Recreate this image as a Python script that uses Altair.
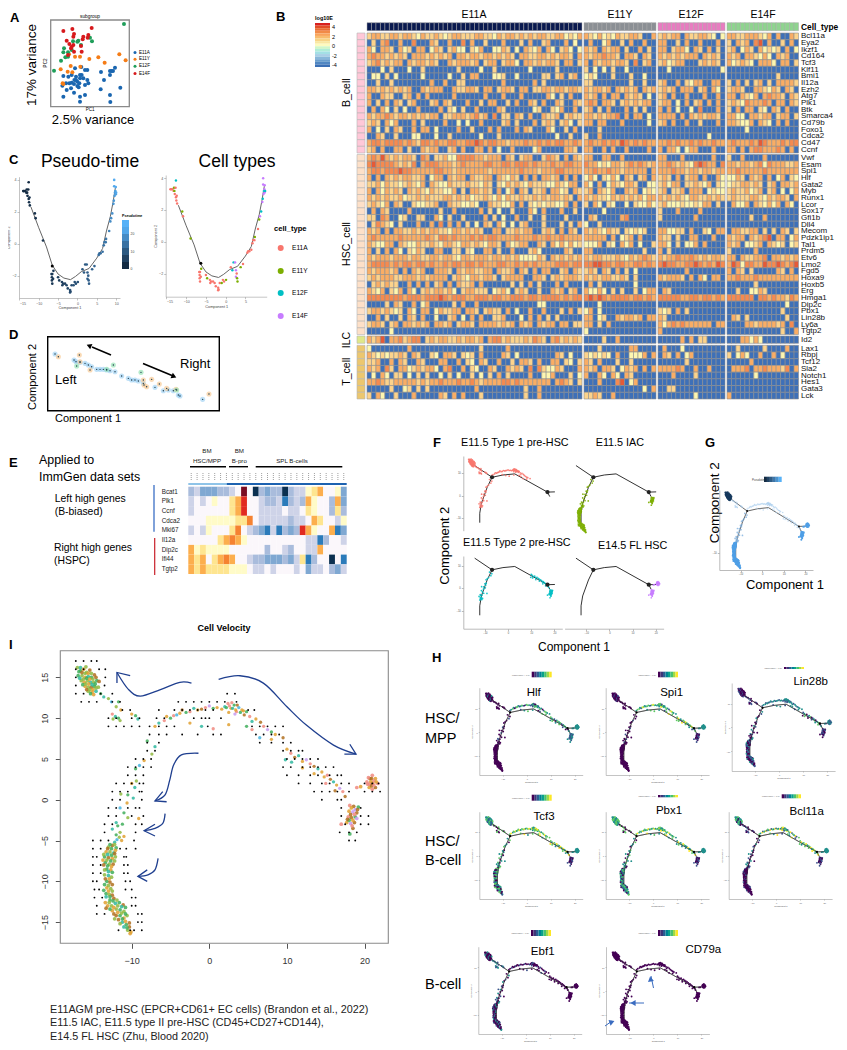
import altair as alt
import pandas as pd

W, H = 831, 1034
FONT = "Liberation Sans"
L = []
ONE = pd.DataFrame({"a": [0]})

# ---------- Panel B values (levels) ----------
GROUP_LEN = [48, 16, 15, 16]
B_CELL = [
("Bcl11a","233223323321322321233222332213233232323322331213","3213121322332003","232330322332101","3322333213030032"),
("Eya2","020340030040003200300403002000300020300230003010","0300130020300300","330020300300030","2032304503002030"),
("Ikzf1","310332031203301320231102130011320103213031023101","3230323302003020","330233103203020","2301320312120301"),
("Cd164","343323232033323232303323323323232033223323233203","3233433203320320","323232333032320","3230332131032300"),
("Tcf3","234232330323323200323332302330233103323233203302","3032332332040230","231233000232320","3123210333103302"),
("Klf11","000102000100200000002000010020000000100000200000","2010102001000000","001000000000001","0000000000000000"),
("Bmi1","011020100000100000100203300011200100000220230230","1210002000200100","000000000000000","0000000000020000"),
("Il12a","002002000000003003002200000000300000030200000000","2200000000200200","230030213300330","2030202302033332"),
("Ezh2","332323232300323330032233203302332033022332332332","3233230323230323","232303330230310","2332003321320320"),
("Atg7","300322002303030000030000003000300030000031020300","3230303303232010","230300300030030","3303213034332032"),
("Plk1","302030320230002303200030020330020300320300320032","3430332023232330","233010302303030","2321433343033032"),
("Btk","030310201003000030210200300003200000012002130030","2302030003020200","303010010400030","2030330210320300"),
("Smarca4","323343233232323302233323423040220320300322302322","3323233403033010","333303032323320","3311033233023302"),
("Cd79b","232031300030200003001010030000230200030232023102","3303300030000010","230300300200030","3321130321030300"),
("Foxo1","301020320030330100003002000303000303200031002030","0002000000000000","000000000000000","0000100000000000"),
("Cdca2","003200200011000100200000010002000000000000100200","2003000000000000","000000000001000","0000000000000000"),
("Cd47","344344443432443433443344543443323334334343443343","3433434354343433","334343343433433","3433343543334344"),
("Ccnf","230300330200323300230300330301003000013000003320","3300303003000030","303310133000300","3303034433343030"),
]
HSC_CELL = [
("Vwf","343532323320430223114444332333032023300243203032","3300330030000000","330003000000300","2003000030000000"),
("Esam","454444323240344433323433334433443444343334334433","4331213323434323","334323214543304","3323323414333223"),
("Spi1","344344454433333443323333333233333343332333443333","3343343323333303","333433233233233","3343333343333333"),
("Hlf","303032323322301330323303223303213203030332303030","1310213103202303","232030233030031","1132032303013021"),
("Gata2","223132212321303211322232213202132321322211321330","3103013213320011","231330223213021","1223323202303323"),
("Myb","303132320323213221130203323203013032022303312032","2303213003230121","230223033301211","2322312302301013"),
("Runx1","323232231223232223323231223213132232232323323203","3232213232323133","323232133223232","2322233213233203"),
("Lcor","232130320021122300322112100322113030212122113030","2031021001021131","231112112133020","0311303213130310"),
("Sox17","030320000300000020030000030201002000310300030020","0000100000000000","200030000300000","0000000000000000"),
("Gfi1b","220430012002200310200200003020100300200200002000","0320000034000000","200000003000000","0000020030000000"),
("Dll4","024321020003003040303020103203101023000200020203","1002000000000000","000000000000000","0000000000000000"),
("Mecom","323030332232323322133232320033022323300232030320","3232132202121200","331122030021033","0332233020203202"),
("Pdzk1ip1","343333343333343244343334343443333433343343343333","3333303012303000","322020033000300","3233032345033013"),
("Tal1","321133032113223213321332321332031233003203131312","1113021031301002","331020113030000","3230112303212012"),
("Prdm5","302030310213200330022021003302003000231000003200","3300000000000200","302000000000000","2000003000000000"),
("Etv6","323332333233223323321332333233232311113203232323","3233222321323432","323343343232332","3303223340332323"),
("Lmo2","344443434434434334344344343334433434343333444344","4455443443344343","454433445434354","3541443354454345"),
("Fgd5","323332303032300333203233223303223032030330023032","2320320302010000","000000300000000","3032020000032030"),
("Hoxa9","232333223332323333023213323320233330033202323332","3232332232020000","323332030310330","3343334333333333"),
("Hoxb5","023232200303030230303223030000002020302000303000","0302000000010000","000000000000000","0000002000000000"),
("Erg","321302130310232332310233222012310232002003230230","3113102020020133","032000000000000","0020011320000000"),
("Hmga1","444444443444344454344433444344334443443444434344","4545434444344343","444443344344343","4444440443433243"),
("Dip2c","000020320030130000020300300000000000001100000000","0001000000000000","000000000000000","0000000000000100"),
("Pbx1","233232120310330132233033202322030100300300020302","1301000000000000","212030200000000","0000000000002000"),
("Lin28b","003020020320300100230103030022300010303020200000","3301200323323033","320000000000000","0320200000000200"),
("Ly6a","233202303323230332302332033332323032303233033022","3302030000000000","313434333333033","0000332333323040"),
("Tgtp2","000001000000000000000000000000000000000000000000","1000000000000000","300000000000000","0000000000002003"),
]
ILC_CELL = [
("Id2","323503342344023233223233230344232223243203423232","0000200300000000","000003030220000","0003313100000000"),
]
T_CELL = [
("Lax1","100000000300000000000000020000030000000000000000","0002000000330000","030001000000000","0020000020000300"),
("Rbpj","321212232032002103320212030000320100000000320100","2121210300111303","032030130000000","2013100300301000"),
("Tcf12","223003032003200033003021032003002033203003302102","3203000200200000","000000200000000","0000030000000000"),
("Sla2","323042033123233103400302100320032320404211320003","3230332013230303","333343003003000","0333403343332403"),
("Notch1","010310220102020010201002010203020000300113000201","3003103103200000","000300002000000","0000001000000000"),
("Hes1","334322333332323343334334323333443433333330343202","0003000450130000","000000000000000","0000000000000000"),
("Gata3","000002001202020000000000300000000002003000000000","0000000000000103","002200000000000","0000000000000000"),
("Lck","203100200030000032030300020000000002003000000000","2232003000000000","000000001000000","3000000000000000"),
]
HEAT_LEVELS = ["0", "1", "2", "3", "4", "5"]
HEAT_COLORS = ["#3e70b8", "#fdf6b0", "#fcd38c", "#f9ad65", "#f58a50", "#e55a37"]
LOG10E = [4, 3.5, 3, 2.5, 2, 1.5, 1, 0.5, 0, -0.5, -1, -1.5, -2, -2.5, -3, -3.5, -4]

# ---------- Panel A ----------
A_POINTS = {
"E11A": [(190,290),(200,270),(222,278),(240,290),(255,285),(240,305),(330,285),(331,306),(361,263),(302,268),(312,240),(303,216),(330,225),(335,213),(345,203),(339,213),(330,213),(262,210),(255,210),(244,201),(225,205),(215,225),(205,230),(190,228),(198,250),(187,257),(208,250),(215,248),(223,240),(228,240),(232,245),(238,250),(240,235),(245,225),(250,235),(262,240),(265,250),(255,255),(232,258),(236,262),(222,252),(240,225),(228,230),(213,265)],
"E11Y": [(377,181),(358,163),(314,188),(295,172),(268,177),(240,170),(225,170),(207,163),(182,208),(203,215),(212,198),(217,217),(241,200),(188,250),(190,252)],
"E12F": [(372,72),(276,124),(270,113),(235,122),(219,124),(232,125),(192,145),(190,157),(204,157),(204,170),(196,172),(183,182),(162,212),(215,150),(243,135)],
"E14F": [(275,84),(217,87),(190,93),(222,102),(200,122),(208,132),(213,145),(220,135),(222,155),(204,165),(245,155),(248,118),(265,105),(263,113),(250,110),(220,110),(243,138),(215,140)],
}
A_COLORS = {"E11A": "#1a66b0", "E11Y": "#f57c16", "E12F": "#1f9e5a", "E14F": "#d7191c"}

# ---------- Panel C ----------
C_X = [-14,-13.8,-13.5,-13.2,-13.1,-12.7,-12.6,-13,-12.9,-12.6,-12.4,-12.5,-12.3,-11,-10.8,-8.9,-6.5,-6.6,-6.6,-6.5,-6.3,-6.7,-6.2,-5,-4.7,-4,-3.9,-3.7,-3.2,-2.8,-2.5,-1.9,-1.8,-1.9,-1.5,-1,-0.7,-0.4,0.1,1.3,1.7,2,2.4,2.6,2.8,2.6,2.9,3,3.8,4.4,5.5,5.7,6,6.5,6.8,7,7.3,7.4,8.2,8.5,8.7,9,9.3,9.4,9.6,9.7,9.8,9.9,10,9.5,9.9,9.5]
C_Y = [3.3,3.3,3.3,3.2,3.4,3.4,3.85,3.2,3,2.8,2.9,2.6,2.4,1.9,1.6,0.2,-1.9,-2.1,-2.3,-2.5,-2.2,-1.9,-1.7,-2.1,-2.3,-2.4,-2.6,-2.5,-2.5,-2.6,-2.8,-2.9,-3,-3.05,-2.6,-2.6,-2.4,-2.5,-2.4,-1.6,-1.8,-1.3,-1.3,-1.8,-2,-2.2,-2.3,-2.5,-1.6,-1.4,-0.7,-0.6,-0.6,-0.5,-0.1,0.1,0.1,0.3,0.8,1.4,1.6,1.9,2.5,2.7,3,3.2,3.3,3.1,3.2,3.6,3.55,4]
C_TIME = [0,0,0,0,0,0,0,0,0.5,1,1,1,1,1.5,1.5,2,3,3,3,3,3,3,3,4,4,5,5,5,5,6,6,7,7,7,7,8,8,8,8,10,10,10,11,11,11,11,11,11,12,12,14,14,14,15,15,16,16,16,18,20,20,21,22,22,23,23,24,24,25,25,26,26]
C_TYPE = "AAAAYAFYAAAAAYA"+"YAAAAAAY"+"AYAAAAAAAAAAYAAYAFFGGAGYYYAAAAAAAAYAY"+"GFGFGFGGFGGGGGGG"
C_TRAJ_X = [-12,-10,-8,-6.5,-5,-3.5,-1.8,-0.5,1,3,5,6.5,7.5,8.5,9.2,9.8]
C_TRAJ_Y = [2.3,1,-0.2,-1.35,-1.9,-2.15,-2.25,-2.05,-1.75,-1.55,-0.9,-0.3,0.8,1.7,2.6,3.5]
TYPE_NAMES = ["E11A", "E11Y", "E12F", "E14F"]
TYPE_COLORS = ["#F8766D", "#7CAE00", "#00BFC4", "#C77CFF"]
TIME_SCALE = [0, 5, 10, 15, 20, 25, 27]

# ---------- Panel D ----------
D_BLUE = [(165,102),(222,120),(228,125),(240,127),(255,130),(265,135),(275,140),(290,148),(300,148),(310,148),(320,150),(330,152),(345,155),(365,168),(385,175),(395,180),(405,180),(415,183),(430,190),(465,202),(490,212),(505,210),(520,212),(535,225),(540,228),(608,238)]
D_ORANGE = [(175,110),(238,105),(270,150),(240,125),(432,195),(440,200),(455,178),(478,192),(500,205),(528,208),(627,222),(430,180)]
D_GREEN = [(340,135),(423,157),(230,138),(320,148),(530,210)]

# ---------- Panel E ----------
E_ROWS = ["Bcat1","Plk1","Ccnf","Cdca2","Mki67","Il12a","Dip2c","Ifi44","Tgtp2"]
E_CELLS = ["deccc" "ddeflfadcddadeeghiffgc",
           "efefgffhikffeddebdedigffdic",
           "effffffhikffeeeefeefhgffdhd",
           "fffggggghhjfeeeeedeefihffegd"[:27],
           "efegfffhjfedcbebdcdkigffibc"[:27],
           "fffffhijigffffffffffeebdffe",
           "ighgggg" "ffffffdffedffeeifffff",
           "ihifhijiffeddcccdcehbdffafb",
           "ihihhhhgggfeefefffefceefdce"]
E_KEYS = list("abcdefghijkl")
E_COLORS = ["#0b3050","#2b7bba","#7fa8d2","#a9bcdc","#ced3e8","#fbf7fb","#fffbc8","#fee590","#fcae4d","#f58231","#e12a20","#7a0c22"]

# ---------- Shared trajectory cells (panels F, G, H, I) ----------
TL = [(-17,16.2),(-16.6,15.8),(-16.2,16),(-15.8,15.6),(-15.4,15.9),(-16.9,15.2),(-16.4,15.2),(-16,15),(-15.6,15.1),(-15.2,15),(-14.8,15.3),(-16.5,14.6),(-16.1,14.4),(-15.7,14.6),(-15.3,14.4),(-14.9,14.4),(-14.5,14.6),(-16,13.9),(-15.6,13.8),(-15.2,13.8),(-14.8,13.9),(-15.6,13.3),(-15.1,13.2),(-14.6,13.3),
      (-16.8,15.7),(-16.4,15.6),(-16,15.5),(-15.6,15.5),(-15.2,15.5),(-16.7,14.9),(-16.2,14.8),(-15.8,14.9),(-15.4,14.8),(-15,14.8),(-14.6,15),(-16.3,14.1),(-15.9,14.2),(-15.5,14.2),(-15.1,14.1),(-14.7,14.2),(-15.8,13.5),(-15.4,13.5),(-15,13.5),(-14.6,13.7),(-16.6,16.2),(-15.9,16.3),(-15.3,13),(-14.9,12.9),(-14.3,13.8),(-14.2,14.5)]
TAIL = [(-14,13),(-13.6,12.6),(-13,12.4),(-12.6,12),(-11.7,12),(-12,11.4),(-11.4,11),(-12.5,10.5),(-12.1,10.2),(-11.7,10),(-12.4,9.9),(-11.5,9.7),(-10,10.5),(-9.5,10.3),(-9.2,9.9)]
ARCH = [(-7,9),(-6.5,9.4),(-5.8,9.7),(-5.5,10.2),(-5,10),(-4.6,10.3),(-4.2,10.4),(-3.8,10.6),(-3.5,11),(-3,10.7),(-2.5,10.8),(-2,11.2),(-1.5,11),(-1,11.1),(-.5,11.3),(0,11.5),(.5,11.2),(1,11.3),(1.6,11.1),(2,11.4),(2.4,11.8),(2.8,11.2),(3.2,11.6),(3.5,10.8),(3.8,11.3),(4.2,11),(4.5,10.4),(4.8,10.8),(5.2,10.2),(5.5,9.6),(6,9.9),(6.6,9.5),(7,9),(7.5,8.6),(8,8.3),(8.5,8),(-2.5,9.4),(-1,9),(.5,8.7),(2.5,9.2),(4.8,9),(5.5,8.6),(6.5,7.6),(8,7.4),(9.5,7.6),
        (2.2,11.3),(2.6,11.5),(3,11.2),(3.4,11),(3.6,11.6),(2.9,11.9),(3.3,10.5),(4,10.7),(4.4,10.9),(2.5,10.7)]
RIGHT = [(10,6.2),(10.5,5.7),(11,5.2),(11.5,5.4),(12,4.7),(12.5,4.9),(13,4.4),(13.5,4.1),(14,3.8),(14.5,3.4),(14.8,2.8),(15.2,3),(15.6,2.5),(16,2.2),(16.4,1.8),(16.8,1.4),(17.2,1),(17.5,.4),(10.6,4.6),(12,3.9),(13.5,3.2),(15,2),(16.2,1.1),(9.8,4.9)]
TERM1 = [(20.3,2.2),(20.7,2.6),(21,3),(21.4,2.6),(21.7,2),(21.4,1.5),(21,1.3),(20.6,1.5),(20.4,1.9),(21,2),(19,1.5),(19.5,1.6),
         (20.5,2.7),(20.9,2.6),(21.2,2.3),(20.8,2.2),(20.6,1.9),(20.9,1.7),(21.2,1.8),(21.5,2.2)]
TERM2 = [(18.1,-0.7),(18.6,-0.8),(19.2,-.9),(18,-1.4),(18.5,-1.5),(19,-1.6),(17.9,-2.1),(18.3,-2.2),(18.8,-2.1),(17.7,-2.8),(18.2,-2.9),(18.7,-2.8),(17,-3),(18.5,-3.5),(18.1,-4.2),
         (18.3,-1),(18.8,-1.2),(18.2,-1.8),(18.7,-1.8),(19.1,-1.2),(18,-2.5),(18.5,-2.5),(19,-2.3),(17.8,-2.4),(18.4,-3.2)]
ARM_S = [(-8,7.2),(-7,6.5),(-7.4,5.6),(-8.4,4.8),(-9,4.2),(-9.5,3.8),(-9.4,2.3),(-10,2),(-9.6,1.5),(-10.5,.6),(-9.8,.2),(-11.4,.7),(-10.6,-.4),(-11.5,-1),(-11,-1.6),(-10.5,-2.2),(-9.1,-2.3),(-12,-2.8),(-11.2,-3),(-12.5,-3.6),(-11.5,-4),(-11,-4.5),(-11.9,-4.9),
         (-12,-4.3),(-11.6,-4.6),(-11.3,-5),(-12.2,-5.2),(-11.8,-3.2)]
ARM_D = [(-13,-5.8),(-12.5,-5.6),(-12,-5.9),(-13.3,-6.4),(-12.8,-6.4),(-12.3,-6.5),(-13.5,-7),(-13,-7.1),(-12.5,-7.2),(-12.1,-7),(-13.4,-7.7),(-12.9,-7.9),(-12.4,-7.9),(-13.2,-8.5),(-12.7,-8.6),(-13.5,-9.2),(-13,-9.3),(-13.2,-10),(-12.8,-10.1),(-13.2,-10.8),(-12.7,-10.9),(-13.3,-11.5),(-12.9,-11.6),(-12.5,-11.7),(-12.8,-12.3),(-13.1,-13),(-12.6,-13),(-12.1,-12.7),(-11.6,-12.6),(-11.1,-12.9),(-12.5,-13.6),(-12,-13.4),(-11.5,-13.5),(-11,-13.7),(-12,-14.2),(-11.5,-14.2),(-11,-14.5),(-10.6,-14.2),(-11.2,-15),(-10.7,-15.3),(-10.3,-15.6),(-10.1,-16.2),(-10.5,-16),
         (-12.8,-5.5),(-12.2,-5.5),(-13.1,-6),(-12.6,-6),(-12.1,-6.2),(-13.6,-6.7),(-13.1,-6.7),(-12.6,-6.8),(-12.2,-6.6),(-13.7,-7.4),(-13.2,-7.4),(-12.7,-7.5),(-12.2,-7.5),(-13.6,-8),(-13.1,-8.1),(-12.6,-8.2),(-13.5,-8.6),(-13,-8.8),(-12.5,-8.9),(-13.4,-9.7),(-12.9,-9.7),(-12.6,-9.5),(-13.5,-10.4),(-13,-10.5),(-12.5,-10.4),(-13.6,-11.1),(-13,-11.2),(-12.5,-11.2),(-13.3,-11.9),(-12.8,-11.9),(-12.3,-12.1),(-13.4,-12.6),(-12.9,-12.6),(-12.4,-12.4),(-11.9,-12.3),(-13.3,-13.3),(-12.8,-13.4),(-12.3,-13.2),(-11.8,-13),(-11.3,-13.1),(-10.8,-13.2),(-12.3,-14),(-11.8,-13.8),(-11.3,-13.9),(-10.8,-14),(-12.2,-14.6),(-11.7,-14.7),(-11.2,-14.6),(-10.8,-14.9),(-11.5,-15.2),(-11,-15.6),(-10.6,-15.7),(-10.3,-15.1),(-10.2,-16.4)]
GROUPS = {"TL":TL,"TAIL":TAIL,"ARCH":ARCH,"RIGHT":RIGHT,"TERM1":TERM1,"TERM2":TERM2,"ARM_S":ARM_S,"ARM_D":ARM_D}
TRAJ = {
 "a": [(-14.4,13.4),(-6.9,8.2)],
 "b": [(-6.9,8.2),(-2.2,9.2),(2.9,9.7),(17,1.6)],
 "c": [(17,1.6),(20.2,1.7)],
 "d": [(17,1.6),(18,-0.4)],
 "e": [(-6.9,8.2),(-9,3.7),(-11.5,-3.4),(-12.2,-7.8),(-12.2,-12)],
}
NODES = [(-6.9,8.2),(17,1.6)]

VIRIDIS = ["#440154","#3b528b","#21908c","#5dc863","#fde725"]
GENE_LEVELS = {
 "Hlf":   dict(TL="0020",TAIL="00",ARCH="123201332",RIGHT="323102",TERM1="2",TERM2="21",ARM_S="00100",ARM_D="0"),
 "Spi1":  dict(TL="0010",TAIL="00",ARCH="233213432",RIGHT="343213",TERM1="2",TERM2="10",ARM_S="00010",ARM_D="0"),
 "Lin28b":dict(TL="001",TAIL="01",ARCH="122",RIGHT="1230",TERM1="21",TERM2="01",ARM_S="0210",ARM_D="01120"),
 "Tcf3":  dict(TL="2321",TAIL="30",ARCH="3423",RIGHT="324",TERM1="2",TERM2="10",ARM_S="2302",ARM_D="2330012"),
 "Pbx1":  dict(TL="2332",TAIL="03",ARCH="34232",RIGHT="2432",TERM1="2",TERM2="10",ARM_S="2032",ARM_D="23201"),
 "Bcl11a":dict(TL="2320",TAIL="01",ARCH="3241",RIGHT="3423",TERM1="2",TERM2="10",ARM_S="0102",ARM_D="00010"),
 "Ebf1":  dict(TL="0200",TAIL="12",ARCH="0010",RIGHT="00",TERM1="0",TERM2="0",ARM_S="0201",ARM_D="02010"),
 "CD79a": dict(TL="0",TAIL="0",ARCH="0",RIGHT="0",TERM1="0",TERM2="0",ARM_S="0",ARM_D="0"),
}

# ---------- Panel I ----------
I_PALETTE = dict(o="#e0a030",g="#3fae5a",t="#2fb8a0",s="#f08a80",p="#c79af0",b="#45b4e0",y="#90b840",d="#b07020")
I_COLS = dict(TL="ygoydgyotgdyoyt",TAIL="gtybgyostgyyo",ARCH="otsogsbodgstodspgo",RIGHT="osdtopsdto",TERM1="sdso",TERM2="sdgopd",ARM_S="gtyobgyot",ARM_D="ydgoytgdoyg")
VELO = {
17:[-17.2,-16.2,-15.2,-14.5],16:[-17.2,-16.2,-14.2,-13.4],15:[-17.2,-13.4],14:[-17.2,-13.5],
13:[-17.2,-16.2,-14,-12.5,2.3,3.3],12:[-16.5,-15.5,-14.5,-12.5,-11.5,-4,-3,-2,-1,0,1,2,3.5],
11:[-11.2,-10.2,-6.5,-4.5,-3.5,-2.5,-1.5,-.5,.5,5,5.8],10:[-13,-12,-10,-9,-6.8,-5.8,-2,-1,-.5,0,1.5],
9:[-13,-12,-11,-10,-9,-7.7,-6.5,-5.5,-4.5,-.2,5.5,6.5,7.5,8.5,9.5],8:[-7.7,-6.5,-5.5,-3.5,-1.5,.5,1.5,6,7,8,9],
7:[-8,-6.5,6.5,8,9.5,10.5],6:[-8,-7,9.5,10.5,11.5,12],5:[-9.5,-8.5,-7.5,10,11,12,13,14],
4:[-10.5,-9.5,-8.5,-7.5,9.5,10.5,12,13,14,15,16],3:[-10.5,-9.5,-8.5,10,11.5,13,14,15.5,16.5,17],
2:[-12,-11,-10,-9,-8.5,11.5,13,14.5,15.5,17,18,20,21,21.8],1:[-12.5,-11.5,-10.5,-9,-8.7,13.5,14.5,15.5,16.5,18,20,21,22],
0:[-12.5,-11.5,-8.7,14.5,16.5,17],-1:[-13,-12,-10.5,-9.5,-9,17,19.5],-2:[-13,-12,-10,-8.5,17,19.5,20.5],
-3:[-13.5,-12.5,-9.5,-8.7,17.5,19.5,20.5],-4:[-13.5,-9.5,16.8,18,19],-5:[-15,-14,-13,-9.7,18,18.8],
-6:[-15,-14,-11.5,-10.7,-9.5],-7:[-15,-14.5,-11,-10.7],-8:[-15,-14,-11,-10.5],-9:[-15,-14,-11,-10.5],
-10:[-15,-14.5,-10.8,-10.2],-11:[-14.8,-14.2,-10.8,-10],-12:[-14.8,-13.8,-10,-9.5],-13:[-14.5,-10,-9.5],
-14:[-14.5,-13.5,-9.2,-8.7],-15:[-9.2,-8.7],-16:[-11.7,-10.2,-9.7,-8.7],
}
I_ARROWS = {
 "c1":[(-2.3,14.3),(-3.8,14.4),(-6.3,13.5),(-8.9,12.7),(-10.4,13.5),(-11.9,15.6)],
 "h1":[(-11.9,14.3),(-11.9,15.6),(-10.2,15.2)],
 "c2":[(1.2,14.75),(3.95,15.2),(6.96,14.3),(10,11.4),(12.5,9.15),(16,6.7),(18.9,5.6)],
 "h2":[(17.4,5.6),(18.9,5.6),(18.1,6.8)],
 "c3":[(-1.4,5.7),(-3.6,5.5),(-4.6,4.25),(-5.1,2.4),(-5.7,.6),(-7,-.15)],
 "h3":[(-6,1),(-7,-.15),(-5.5,-.25)],
 "c4":[(-5.7,-1.7),(-6,-2.9),(-7,-3.5),(-8.4,-3.8)],
 "h4":[(-7,-3),(-8.4,-3.8),(-7,-4.45)],
 "c5":[(-6.6,-7.2),(-7,-8.6),(-7.9,-9.2),(-9.2,-9.4)],
 "h5":[(-8,-8.6),(-9.2,-9.4),(-8,-10)],
}

# ---------- helpers (all positions below are page pixels) ----------
def sc(dom, rng):
    return alt.Scale(domain=list(dom), range=[rng[0]-8, rng[1]-8], nice=False, zero=False)

def xax(y, ticks, size, title=None, tsize=None, color="#888888", tick=2, w=0.5):
    kw = dict(title=title) if title else dict(title=None)
    return alt.Axis(orient="bottom", offset=(y-8)-H, values=ticks, grid=False, labelFontSize=size,
                    labelFont=FONT, labelColor="#555555", tickSize=tick, tickColor=color, domainColor=color,
                    domainWidth=w, tickWidth=w, labelPadding=1, titleFontSize=tsize or size, titleFont=FONT,
                    titleFontWeight="normal", titleColor="#444444", titlePadding=1, format="d", **kw)

def yax(x, ticks, size, title=None, tsize=None, color="#888888", tick=2, w=0.5, angle=None):
    kw = dict(title=title) if title else dict(title=None)
    if angle is not None:
        kw.update(labelAngle=angle, labelAlign="center", labelBaseline="bottom")
    return alt.Axis(orient="left", offset=-(x-8), values=ticks, grid=False, labelFontSize=size,
                    labelFont=FONT, labelColor="#555555", tickSize=tick, tickColor=color, domainColor=color,
                    domainWidth=w, tickWidth=w, labelPadding=1, titleFontSize=tsize or size, titleFont=FONT,
                    titleFontWeight="normal", titleColor="#444444", titlePadding=1, format="d", **kw)

def T(s, x, y, size=9, align="left", bold=False, angle=None, color="#000000"):
    kw = dict(angle=angle) if angle is not None else {}
    L.append(alt.Chart(ONE).mark_text(text=s, font=FONT, fontSize=size, align=align, baseline="middle", color=color,
                                      fontWeight="bold" if bold else "normal", **kw)
             .encode(x=alt.value(x-8), y=alt.value(y-8)))

def seg(x0, y0, x1, y1, color="#000000", w=1.0, dash=None):
    kw = dict(strokeDash=dash) if dash else {}
    L.append(alt.Chart(ONE).mark_rule(color=color, strokeWidth=w, **kw)
             .encode(x=alt.value(x0-8), x2=alt.value(x1-8), y=alt.value(y0-8), y2=alt.value(y1-8)))

def frame(x0, y0, x1, y1, color, w):
    L.append(alt.Chart(ONE).mark_rect(fillOpacity=0, stroke=color, strokeWidth=w)
             .encode(x=alt.value(x0-8), x2=alt.value(x1-8), y=alt.value(y0-8), y2=alt.value(y1-8)))

def tri(x, y, angle, size, color="#000000"):
    L.append(alt.Chart(ONE).mark_point(shape="triangle-up", filled=True, opacity=1, color=color, size=size, angle=angle % 360)
             .encode(x=alt.value(x-8), y=alt.value(y-8)))

def pts(p, xs, ys, size, color=None, opacity=1.0, xaxis=None, yaxis=None, cfield=None, cscale=None, mark="circle"):
    df = pd.DataFrame(p, columns=["x", "y"] + (["c"] if cfield else []))
    enc = dict(x=alt.X("x:Q", scale=xs, axis=xaxis), y=alt.Y("y:Q", scale=ys, axis=yaxis))
    if cfield:
        enc["color"] = alt.Color(cfield, scale=cscale, legend=None)
        m = alt.Chart(df).mark_circle(size=size, opacity=opacity)
    else:
        m = alt.Chart(df).mark_circle(size=size, opacity=opacity, color=color)
    L.append(m.encode(**enc))

def lines(segs, xs, ys, color, w, xaxis=None, yaxis=None, interp="linear"):
    rows = [dict(seg=k, i=i, x=a, y=b) for k, v in segs.items() for i, (a, b) in enumerate(v)]
    L.append(alt.Chart(pd.DataFrame(rows)).mark_line(color=color, strokeWidth=w, interpolate=interp)
             .encode(x=alt.X("x:Q", scale=xs, axis=xaxis), y=alt.Y("y:Q", scale=ys, axis=yaxis),
                     detail="seg:N", order="i:Q"))

def bar(vals, xr, yr, dom, rng, vertical=True):
    df = pd.DataFrame({"v": vals, "k": [str(i) for i in range(len(vals))]})
    keys = list(df.k)
    band = lambda r: alt.Scale(domain=keys, range=[r[0]-8, r[1]-8], paddingInner=0, paddingOuter=0)
    col = alt.Color("v:Q", scale=alt.Scale(domain=dom, range=rng), legend=None)
    if vertical:
        L.append(alt.Chart(df).mark_rect().encode(
            y=alt.Y("k:N", sort=None, scale=band(yr), axis=None),
            x=alt.value(xr[0]-8), x2=alt.value(xr[1]-8), color=col))
    else:
        L.append(alt.Chart(df).mark_rect().encode(
            x=alt.X("k:N", sort=None, scale=band(xr), axis=None),
            y=alt.value(yr[0]-8), y2=alt.value(yr[1]-8), color=col))

# ---------- A ----------
ax_s, ay_s = sc([152, 388], (50.7, 129.3)), sc([320, 60], (106.7, 20))
frame(50.7, 20, 129.3, 106.7, "#8a8a8a", 1.3)
for name, p in A_POINTS.items():
    pts(p, ax_s, ay_s, 16, color=A_COLORS[name])
T("subgroup", 90, 16.5, 4.8, "center")
T("PC1", 90, 109.5, 4.5, "center")
T("PC2", 46, 63, 4.5, "center", angle=270)
T("17% variance", 32, 65, 13.5, "center", angle=270)
T("2.5% variance", 93, 120, 13, "center")
for i, name in enumerate(TYPE_NAMES):
    yy = [52.5, 59.3, 66.3, 73.5][i]
    L.append(alt.Chart(pd.DataFrame({"n": [name]})).mark_circle(size=9, opacity=1, color=A_COLORS[name])
             .encode(x=alt.value(135-8), y=alt.value(yy-8)))
    T(name, 139, yy, 4.6)

# ---------- Panel letters ----------
for s, x, y in [("A",10,18),("B",276,17),("C",9,160),("D",9,335),("E",9,463),("F",433,443),("G",705,443),("H",432,658),("I",9,645)]:
    T(s, x, y, 13, bold=True)

# ---------- B ----------
col_groups = [(0, 48, (367, 582)), (48, 64, (584, 656)), (64, 79, (658, 725)), (79, 95, (727, 798.5))]
row_groups = [(B_CELL, (33, 153), "#ffc8d8"), (HSC_CELL, (154.5, 334.5), "#fde0c8"),
              (ILC_CELL, (336, 343.3), "#dfe88a"), (T_CELL, (345.3, 399), "#ecc76f")]
grid = "#8f8f8f"
for rows, yr, side in row_groups:
    names = [r[0] for r in rows]
    yb = alt.Scale(domain=names, range=[yr[0]-8, yr[1]-8], paddingInner=0, paddingOuter=0)
    for gi, (c0, c1, xr) in enumerate(col_groups):
        rec = []
        for r in rows:
            s = r[gi+1].ljust(GROUP_LEN[gi], "0")[:GROUP_LEN[gi]]
            rec += [dict(row=r[0], col=c0+j, v=ch) for j, ch in enumerate(s)]
        L.append(alt.Chart(pd.DataFrame(rec)).mark_rect(stroke=grid, strokeWidth=0.6).encode(
            x=alt.X("col:O", scale=alt.Scale(domain=list(range(c0, c1)), range=[xr[0]-8, xr[1]-8], paddingInner=0, paddingOuter=0), axis=None),
            y=alt.Y("row:N", sort=None, scale=yb, axis=None),
            color=alt.Color("v:N", scale=alt.Scale(domain=HEAT_LEVELS, range=HEAT_COLORS), legend=None)))
    df = pd.DataFrame({"row": names})
    L.append(alt.Chart(df).mark_rect(stroke="#b5b5b5", strokeWidth=0.6, color=side).encode(
        y=alt.Y("row:N", sort=None, scale=yb, axis=None), x=alt.value(357-8), x2=alt.value(365-8)))
    L.append(alt.Chart(df).mark_text(font=FONT, fontSize=8, align="left", color="#111111").encode(
        y=alt.Y("row:N", sort=None, scale=yb, axis=None), x=alt.value(801-8), text="row:N"))
HDR = ["#0a1a50", "#8b8f94", "#e87cc0", "#8fd48f"]
for (c0, c1, xr), colr, nm, cx in zip(col_groups, HDR, ["E11A","E11Y","E12F","E14F"], [474, 620, 691, 763]):
    df = pd.DataFrame({"col": list(range(c0, c1))})
    L.append(alt.Chart(df).mark_rect(color=colr, stroke="#a8a8a8", strokeWidth=0.5).encode(
        x=alt.X("col:O", scale=alt.Scale(domain=list(range(c0, c1)), range=[xr[0]-8, xr[1]-8], paddingInner=0, paddingOuter=0), axis=None),
        y=alt.value(22.7-8), y2=alt.value(30.7-8)))
    T(nm, cx, 14.5, 10.5, "center")
T("Cell_type", 801, 27, 8.4, bold=True)
T("B_cell", 346.5, 92.7, 10.5, "center", angle=270)
T("HSC_cell", 346.5, 244, 10.5, "center", angle=270)
T("ILC", 346.5, 340, 10.5, "center", angle=270)
T("T_cell", 346.5, 371.7, 10.5, "center", angle=270)
T("log10E", 315, 18, 5.5, bold=True)
bar(LOG10E, (315, 330), (23, 67), [-4, -2, 0, 2, 4], ["#3a6fb5", "#a8cfe6", "#fdfbc0", "#f9a45c", "#d8201f"])
for s, yy in [("4", 27), ("2", 37), ("0", 46), ("-2", 56), ("-4", 65)]:
    T(s, 332, yy, 5.5)

# ---------- C ----------
c_tr = {"t": list(zip(C_TRAJ_X, C_TRAJ_Y))}
cx1, cy1 = sc([-15.1, 11], (19, 120)), sc([-3.4, 4.2], (298, 176.7))
cx2, cy2 = sc([-15.2, 10.4], (165.7, 266.7)), sc([-3.46, 4.2], (296.7, 175))
lines(c_tr, cx1, cy1, "#666666", 1, xax(298, [-15,-10,-5,0,5,10], 3.6, "Component 1", 3.8), yax(19, [-2,0,2,4], 3.6, "Component 2", 3.8))
pts(list(zip(C_X, C_Y, C_TIME)), cx1, cy1, 7, cfield="c:Q",
    cscale=alt.Scale(domain=[0, 27], range=["#132B43", "#56B1F7"]))
pts([(-6.5, -1.4)], cx1, cy1, 9, color="#000000")
lines(c_tr, cx2, cy2, "#666666", 1, xax(296.7, [-15,-10,-5,0,5], 3.6, "Component 1", 3.8), yax(165.7, [-2,0,2,4], 3.6, "Component 2", 3.8))
tmap = dict(A="E11A", Y="E11Y", F="E12F", G="E14F")
ctypes = (C_TYPE + "G"*len(C_X))[:len(C_X)]
pts([(a, b, tmap[t]) for a, b, t in zip(C_X, C_Y, ctypes)], cx2, cy2, 6, cfield="c:N",
    cscale=alt.Scale(domain=TYPE_NAMES, range=TYPE_COLORS))
pts([(-6.3, -1.35)], cx2, cy2, 9, color="#000000")
T("Pseudo-time", 90, 162, 17.5, "center")
T("Cell types", 237, 162, 17.5, "center")
T("Pseudotime", 122, 216, 3.6, bold=True)
bar(TIME_SCALE[::-1], (122, 129), (220, 269), [0, 27], ["#132B43", "#56B1F7"])
for s, yy in [("20", 234), ("10", 252), ("0", 268.5)]:
    T(s, 130.5, yy, 3.4, color="#444444")
T("cell_type", 274, 229, 7.6, bold=True)
for name, colr, yy in zip(TYPE_NAMES, TYPE_COLORS, [248, 271, 293, 316]):
    L.append(alt.Chart(pd.DataFrame({"n": [name]})).mark_circle(size=36, opacity=1, color=colr)
             .encode(x=alt.value(280.7-8), y=alt.value(yy-8)))
    T(name, 292, yy, 6.6)

# ---------- D ----------
dx, dy = sc([143, 658], (47.7, 219.3)), sc([272, 50], (410.7, 336.7))
pts(D_BLUE, dx, dy, 26, color="#8cc8f0", opacity=0.55)
pts(D_ORANGE, dx, dy, 26, color="#f8c890", opacity=0.65)
pts(D_GREEN, dx, dy, 26, color="#90e0b0", opacity=0.65)
pts(D_BLUE + D_ORANGE + D_GREEN, dx, dy, 2, color="#1c3a4a")
frame(47.7, 336.7, 219.3, 410.7, "#000000", 1.4)
T("Left", 55, 380, 13)
T("Right", 180, 364, 13)
T("Component 2", 33, 377, 11, "center", angle=270)
T("Component 1", 88, 419, 11, "center")
seg(111, 355, 92, 347, w=1.6)
tri(89, 345.7, -67, 34)
seg(143, 363.5, 172, 375.5, w=1.6)
tri(174, 376.5, 113, 34)

# ---------- E ----------
ecols = [f"c{i}" for i in range(27)]
ex = alt.Scale(domain=ecols, range=[188.3-8, 346.7-8], paddingInner=0, paddingOuter=0)
ey = alt.Scale(domain=E_ROWS, range=[486.7-8, 574-8], paddingInner=0, paddingOuter=0)
rec = [dict(row=r, col=ecols[j], v=ch) for r, s in zip(E_ROWS, E_CELLS) for j, ch in enumerate(s.ljust(27, "f")[:27])]
L.append(alt.Chart(pd.DataFrame(rec)).mark_rect().encode(
    x=alt.X("col:N", sort=None, scale=ex, axis=None), y=alt.Y("row:N", sort=None, scale=ey, axis=None),
    color=alt.Color("v:N", scale=alt.Scale(domain=E_KEYS, range=E_COLORS), legend=None)))
L.append(alt.Chart(pd.DataFrame({"row": E_ROWS})).mark_text(font=FONT, fontSize=6.3, align="left", color="#222222").encode(
    y=alt.Y("row:N", sort=None, scale=ey, axis=None), x=alt.value(161.7-8), text="row:N"))
L.append(alt.Chart(pd.DataFrame({"col": ecols})).mark_rule(color="#777777", strokeWidth=0.7, strokeDash=[1, 1]).encode(
    x=alt.X("col:N", sort=None, scale=ex, axis=None), y=alt.value(473-8), y2=alt.value(481-8)))
seg(188.3, 484, 226.7, 484, "#8fc4e8", 2)
seg(226.7, 484, 346.7, 484, "#1d62b0", 2)
seg(190, 466.7, 226, 466.7, "#000000", 1.4)
seg(229, 466.7, 248, 466.7, "#000000", 1.4)
seg(255.7, 466.7, 342.3, 466.7, "#000000", 1.4)
T("BM", 207, 450.7, 6.2, "center", color="#222222")
T("HSC/MPP", 207, 460.5, 6.2, "center", color="#222222")
T("BM", 239.3, 450.7, 6.2, "center", color="#222222")
T("B-pro", 239.3, 460.5, 6.2, "center", color="#222222")
T("SPL B-cells", 292, 460.5, 6.2, "center", color="#222222")
T("Applied to", 39, 460, 12.4)
T("ImmGen data sets", 39, 476.7, 12.4)
T("Left high genes", 54.7, 498.7, 10.4)
T("(B-biased)", 54.7, 512, 10.4)
T("Right high genes", 54, 548, 10.4)
T("(HSPC)", 54, 561, 10.4)
seg(154, 485, 154, 531.7, "#2a63c0", 1.2)
seg(154.7, 538, 154.7, 575, "#c8202a", 1.2)

# ---------- F ----------
def fpanel(x_dx, y0, bottom, top, groups, colr, show_y, show_x):
    xs = sc([-19.3, 23.4], (463.3+x_dx, 562.3+x_dx))
    ys = sc([-(bottom-y0)/2.25, (y0-top)/2.25], (bottom, top))
    xa = xax(bottom, [-10,0,10,20], 2.6, color="#aaaaaa", w=0.8) if show_x else None
    ya = yax(463.3+x_dx, [-10,0,10], 2.6, color="#aaaaaa", w=0.8) if show_y else None
    lines(TRAJ, xs, ys, "#333333", 1.0, xa, ya)
    p = [q for g in groups for q in GROUPS[g]]
    pts(p, xs, ys, 3, color=colr, opacity=0.9)
    pts(NODES, xs, ys, 18, color="#222222")
fpanel(0, 495.7, 530.7, 456, ["TL","TAIL","ARCH","ARM_S"], "#F8766D", True, False)
fpanel(101.3, 495.7, 530.7, 456, ["ARM_D","ARM_S","TERM2"], "#7CAE00", False, False)
fpanel(0, 588.3, 628.7, 556, ["ARM_S","RIGHT","TERM2"], "#00BFC4", True, True)
fpanel(101.3, 588.3, 628.7, 556, ["TERM1","TERM2"], "#C77CFF", False, True)
T("E11.5 Type 1 pre-HSC", 461, 443.3, 10.8)
T("E11.5 IAC", 595.7, 443.3, 10.8)
T("E11.5 Type 2 pre-HSC", 463, 543.3, 10.8)
T("E14.5 FL HSC", 598, 546, 10.8)
T("Component 2", 445, 545.7, 13, "center", angle=270)
T("Component 1", 574, 646.7, 12, "center")

# ---------- G ----------
gx, gy = sc([-19.8, 23.5], (719.3, 813)), sc([-17.2, 17.3], (570, 490))
lines(TRAJ, gx, gy, "#555555", 0.9, xax(570, [-10,0,10,20], 2.6, color="#aaaaaa", w=0.8), yax(719.3, [-10,0,10], 2.6, color="#aaaaaa", w=0.8))
pts(TAIL + ARCH + RIGHT, gx, gy, 2.5, color="#a9cdee", opacity=0.7)
pts(TL, gx, gy, 4, color="#173a5e")
pts(ARM_S, gx, gy, 3, color="#7fb0de", opacity=0.8)
pts(ARM_D + TERM1 + TERM2, gx, gy, 4, color="#4f9fe6")
pts(NODES, gx, gy, 4, color="#111111")
T("Component 2", 715, 502.7, 13.5, "center", angle=270)
T("Component 1", 785, 585, 13, "center")
T("Pseudotime", 752, 479.5, 2.8, color="#444444")
bar([0, 5, 10, 15, 20, 25], (764, 781.7), (476.7, 482), [0, 25], ["#132B43", "#56B1F7"], vertical=False)

# ---------- H ----------
def hpanel(gene, ax_x, y0, bottom, top, cb):
    xs = sc([-19.75, 23.3], (ax_x, ax_x+103.4))
    ys = sc([-(bottom-y0)/2.38, (y0-top)/2.38], (bottom, top))
    lines(TRAJ, xs, ys, "#777777", 1.0, xax(bottom, [-10,0,10,20], 2.2, "Component 1", 2.2, tick=1), yax(ax_x, [-10,0,10], 2.2, "Component 2", 2.2, tick=1))
    rec = []
    for g, p in GROUPS.items():
        s = GENE_LEVELS[gene][g]
        rec += [(a, b, int(s[i % len(s)])) for i, (a, b) in enumerate(p)]
    pts(rec, xs, ys, 3.5, cfield="c:Q", cscale=alt.Scale(domain=[0, 1, 2, 3, 4], range=VIRIDIS))
    lines({k: v for k, v in TRAJ.items()}, xs, ys, "#333333", 0.5)
    pts(NODES, xs, ys, 5, color="#000000")
    bar([0, 1, 2, 3, 4, 5, 6, 7], cb[0], cb[1], [0, 1.75, 3.5, 5.25, 7], VIRIDIS, vertical=False)
    T("log10(value + 0.1)", cb[0][0]-2, (cb[1][0]+cb[1][1])/2, 2.2, "right", color="#555555")

hpanel("Hlf", 479.3, 732, 775, 687.7, ((531.7, 551.7), (671.7, 677.3)))
hpanel("Spi1", 605.7, 732, 775, 687.7, ((658, 678), (671.7, 677.3)))
hpanel("Lin28b", 731.7, 727.3, 771, 683, ((784, 804), (667, 669)))
hpanel("Tcf3", 479.3, 855.7, 899, 811.7, ((531.7, 551.7), (794.7, 800.7)))
hpanel("Pbx1", 605.7, 855.7, 899, 811.7, ((658, 678), (795, 797.3)))
hpanel("Bcl11a", 728.7, 855.7, 899, 811.7, ((781.7, 801), (794.3, 798.3)))
hpanel("Ebf1", 478.3, 991, 1034, 946.7, ((531, 551), (930, 936)))
hpanel("CD79a", 606, 991, 1034, 946.7, ((658, 678), (930, 936)))
for s, x, y in [("Hlf",533.7,693),("Spi1",671.7,693),("Lin28b",810.7,682.3),("Tcf3",544,817),("Pbx1",669,810.7),("Bcl11a",806.7,811.7),("Ebf1",542.7,951.7),("CD79a",703.3,950)]:
    T(s, x, y, 11.5, "center")
T("HSC/", 425, 719, 14.5)
T("MPP", 425, 739, 14.5)
T("HSC/", 425, 841.7, 14.5)
T("B-cell", 425, 860.7, 14.5)
T("B-cell", 425, 985, 14.5)
ARW = "#3a6cc0"
seg(653.5, 988, 651, 976, ARW, 1)
tri(650.5, 979, -10, 36, ARW)
seg(644, 1003, 629, 1003, ARW, 1)
tri(633, 1003, -90, 36, ARW)
seg(605, 1026, 612, 1021, ARW, 1)
tri(612, 1022, 70, 36, ARW)

# ---------- I ----------
ix, iy = sc([-19.2, 23.06], (60.3, 388.3)), sc([-17.6, 18.27], (943.3, 650.7))
frame(60.3, 650.7, 388.3, 943.3, "#8a8a8a", 1.1)
L.append(alt.Chart(pd.DataFrame({"x": [-10, 0, 10, 20], "y": [-17.6]*4})).mark_circle(opacity=0).encode(
    x=alt.X("x:Q", scale=ix, axis=alt.Axis(orient="bottom", offset=(943.3-8)-H, values=[-10,0,10,20], title=None, grid=False,
            labelFont=FONT, labelFontSize=9, labelColor="#333333", tickColor="#555555", domain=False, tickSize=5, labelPadding=8, labelExpr="replace(datum.label, '-', '−')")),
    y=alt.Y("y:Q", scale=iy, axis=alt.Axis(orient="left", offset=-(60.3-8), values=[-15,-10,-5,0,5,10,15], title=None, grid=False,
            labelFont=FONT, labelFontSize=9, labelColor="#333333", tickColor="#555555", domain=False, tickSize=5, labelPadding=6,
            labelAngle=270, labelAlign="center", labelBaseline="bottom", labelExpr="replace(datum.label, '-', '−')"))))
for g, p in GROUPS.items():
    s = I_COLS[g]
    size = 14 if g in ("TL", "ARM_D", "TERM1", "TERM2") else 11
    rec = [(a, b, s[i % len(s)]) for i, (a, b) in enumerate(p)]
    pts(rec, ix, iy, size, cfield="c:N", opacity=0.85,
        cscale=alt.Scale(domain=list(I_PALETTE), range=list(I_PALETTE.values())))
velo = [(x, y) for y, xs in VELO.items() for x in xs]
pts(velo, ix, iy, 3.5, color="#000000")
lines({k: v for k, v in I_ARROWS.items() if k[0] == "c"}, ix, iy, "#1f3f8f", 1.3, interp="cardinal")
lines({k: v for k, v in I_ARROWS.items() if k[0] == "h"}, ix, iy, "#1f3f8f", 1.3)
T("Cell Velocity", 224, 627.7, 9, "center", bold=True)
T("E11AGM pre-HSC (EPCR+CD61+ EC cells) (Brandon et al., 2022)", 50, 1010, 10.8, color="#222222")
T("E11.5 IAC, E11.5 type II pre-HSC (CD45+CD27+CD144),", 50, 1023, 10.8, color="#222222")
T("E14.5 FL HSC (Zhu, Blood 2020)", 50, 1036.7, 10.8, color="#222222")

chart = (alt.layer(*L)
         .resolve_scale(x="independent", y="independent", color="independent")
         .resolve_axis(x="independent", y="independent")
         .properties(width=W, height=H, padding=0, background="#ffffff",
                     autosize=alt.AutoSizeParams(type="none"))
         .configure_view(stroke=None))
chart.save("out.html", embed_options={"renderer": "svg", "actions": False})
